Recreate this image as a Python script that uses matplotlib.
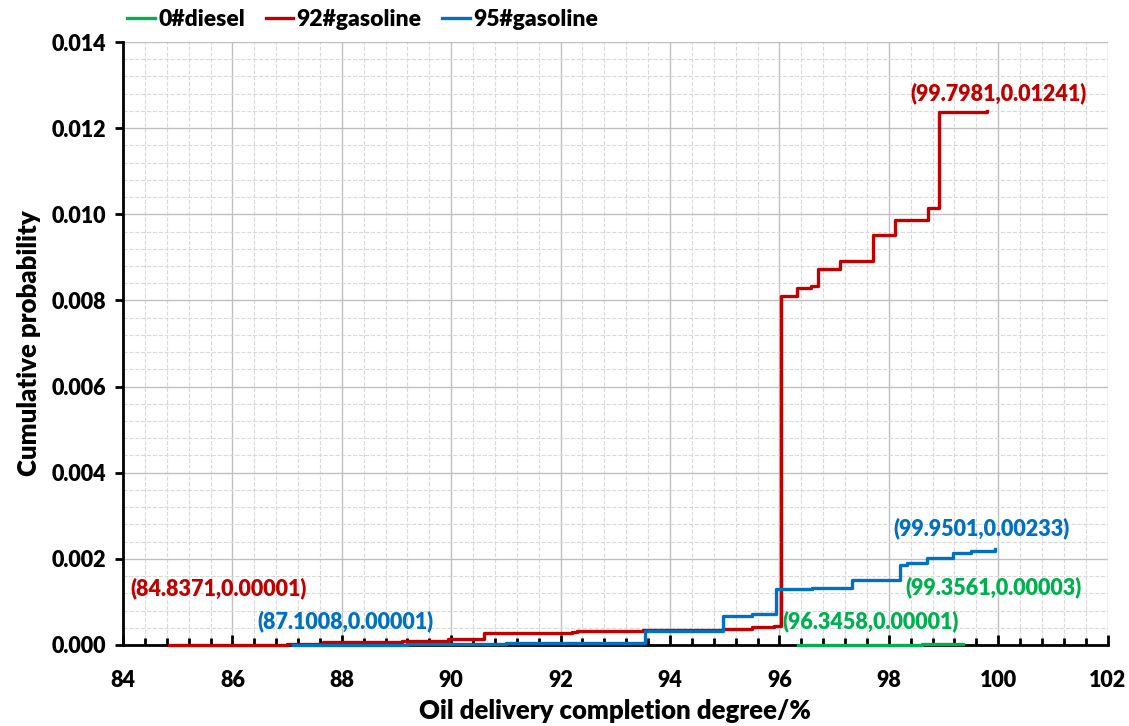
import matplotlib.pyplot as plt
from matplotlib.ticker import MultipleLocator

plt.rcParams['font.family'] = ['Lato', 'DejaVu Sans']
plt.rcParams['font.weight'] = 'heavy'

# Step curves (x = completion degree, y = cumulative probability).
diesel_x = [96.3458, 97.5, 98.6, 99.3561]
diesel_y = [0.00001, 0.00001, 0.00002, 0.00003]

g92_x = [84.8371, 87.0, 87.66, 89.1, 89.95, 90.6, 92.2, 92.3, 93.5, 94.97, 95.5, 95.9,
         96.03, 96.33, 96.58, 96.7, 97.11, 97.72, 98.12, 98.72, 98.92, 99.7981]
g92_y = [0.00001, 0.00003, 0.00006, 0.00010, 0.00013, 0.00027, 0.00029, 0.00033, 0.00034,
         0.00037, 0.00041, 0.00045, 0.0081, 0.00829, 0.00834, 0.00873, 0.00892, 0.00952,
         0.00987, 0.01015, 0.01238, 0.01241]

g95_x = [87.1008, 89.2, 91.0, 93.55, 94.97, 95.5, 95.93, 96.6, 97.32, 98.2, 98.33, 98.7,
         99.18, 99.5, 99.9501]
g95_y = [0.00001, 0.00003, 0.00005, 0.00033, 0.00067, 0.00071, 0.00130, 0.00132, 0.00151,
         0.00186, 0.00191, 0.00201, 0.00214, 0.00218, 0.00222]

# Annotation texts and where they start (left edge, data coords).
notes = ['(99.7981,0.01241)', '(84.8371,0.00001)', '(87.1008,0.00001)',
         '(96.3458,0.00001)', '(99.3561,0.00003)', '(99.9501,0.00233)']
note_x = [98.39, 84.13, 86.45, 96.05, 98.30, 98.08]
note_y = [0.01282, 0.00132, 0.00056, 0.00056, 0.00135, 0.00272]
note_c = ['#C00000', '#C00000', '#0070C0', '#00B050', '#00B050', '#0070C0']

fig = plt.figure(figsize=(11.29, 7.26), dpi=100)
ax = fig.add_axes([0.109, 0.1116, 0.872, 0.8305])

ax.step(diesel_x, diesel_y, where='post', c='#00B050', lw=2.4, label='0#diesel', zorder=3, clip_on=False)
ax.step(g92_x, g92_y, where='post', c='#C00000', lw=2.4, label='92#gasoline', zorder=3, clip_on=False)
ax.step(g95_x, g95_y, where='post', c='#0070C0', lw=2.4, label='95#gasoline', zorder=4, clip_on=False)

for t, x, y, c in zip(notes, note_x, note_y, note_c):
    ax.text(x, y, t, color=c, fontsize=15.5, fontweight='heavy', ha='left', va='center')

ax.set_xlim(84, 102)
ax.set_ylim(0, 0.014)
ax.xaxis.set_major_locator(MultipleLocator(2))
ax.xaxis.set_minor_locator(MultipleLocator(0.4))
ax.yaxis.set_major_locator(MultipleLocator(0.002))
ax.yaxis.set_minor_locator(MultipleLocator(0.0004))
ax.yaxis.set_major_formatter(plt.FormatStrFormatter('%.3f'))

ax.grid(which='major', color='#c0c0c0', lw=1.0, ls='-')
ax.grid(which='minor', color='#d9d9d9', lw=0.8, ls='--')
ax.set_axisbelow(True)

ax.spines['top'].set_visible(False)
ax.spines['right'].set_visible(False)
ax.spines['left'].set_linewidth(2)
ax.spines['bottom'].set_linewidth(2)

ax.tick_params(axis='x', which='major', direction='in', length=7, width=2, labelsize=15.5, pad=18)
ax.tick_params(axis='x', which='minor', direction='in', length=5, width=2)
ax.tick_params(axis='y', which='major', direction='out', length=6, width=2, labelsize=15.5, pad=6)
ax.tick_params(axis='y', which='minor', length=0)

ax.set_xlabel('Oil delivery completion degree/%', fontsize=18.5, fontweight='heavy', labelpad=6)
ax.set_ylabel('Cumulative probability', fontsize=18.5, fontweight='heavy', labelpad=8)

ax.legend(loc='lower left', bbox_to_anchor=(-0.005, 1.005), ncol=3, frameon=False,
          fontsize=16.5, handlelength=1.2, handletextpad=0.15, columnspacing=0.9,
          borderaxespad=0)

plt.savefig('out.png')
